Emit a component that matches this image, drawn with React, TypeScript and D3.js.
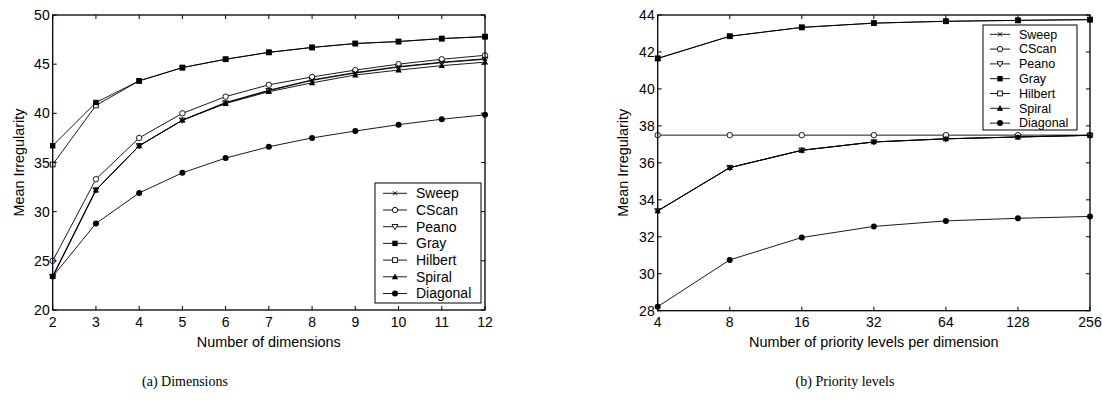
import React, { useRef, useEffect } from "react";
import * as d3 from "d3";

// series order as in the legend
const seriesNames = ["Sweep", "CScan", "Peano", "Gray", "Hilbert", "Spiral", "Diagonal"];

// (a) Dimensions
const dims = [2, 3, 4, 5, 6, 7, 8, 9, 10, 11, 12];
const sweepA = [23.4, 32.2, 36.7, 39.3, 41.1, 42.35, 43.4, 44.15, 44.75, 45.2, 45.55];
const cscanA = [25.0, 33.3, 37.5, 40.0, 41.7, 42.9, 43.7, 44.4, 45.0, 45.5, 45.9];
const peanoA = [23.4, 32.2, 36.7, 39.3, 41.05, 42.3, 43.35, 44.1, 44.7, 45.15, 45.5];
const grayA = [36.7, 41.1, 43.3, 44.65, 45.5, 46.2, 46.7, 47.1, 47.3, 47.6, 47.8];
const hilbertA = [34.8, 40.8, 43.3, 44.65, 45.5, 46.2, 46.7, 47.1, 47.3, 47.6, 47.8];
const spiralA = [23.4, 32.2, 36.7, 39.3, 41.0, 42.2, 43.1, 43.9, 44.4, 44.85, 45.2];
const diagonalA = [23.4, 28.8, 31.9, 33.95, 35.45, 36.6, 37.5, 38.2, 38.85, 39.4, 39.85];
const yTicksA = [20, 25, 30, 35, 40, 45, 50];

// (b) Priority levels
const levels = [4, 8, 16, 32, 64, 128, 256];
const sweepB = [33.4, 35.74, 36.68, 37.13, 37.3, 37.4, 37.49];
const cscanB = [37.5, 37.5, 37.5, 37.5, 37.5, 37.5, 37.5];
const peanoB = [33.4, 35.74, 36.68, 37.13, 37.3, 37.4, 37.49];
const grayB = [41.65, 42.85, 43.33, 43.56, 43.66, 43.71, 43.75];
const hilbertB = [41.65, 42.85, 43.33, 43.56, 43.66, 43.71, 43.75];
const spiralB = [33.4, 35.74, 36.68, 37.13, 37.3, 37.4, 37.49];
const diagonalB = [28.22, 30.75, 31.96, 32.56, 32.86, 33.0, 33.1];
const yTicksB = [28, 30, 32, 34, 36, 38, 40, 42, 44];

const FONT = "'Liberation Sans', Arial, Helvetica, sans-serif";
const SERIF = "'Liberation Serif', 'Times New Roman', serif";

// draw one marker of the given series name at (x, y)
function marker(g, name, x, y) {
  const s = 2.7;
  if (name === "Sweep") {
    g.append("path")
      .attr("d", `M${x - 2},${y - 2}L${x + 2},${y + 2}M${x - 2},${y + 2}L${x + 2},${y - 2}`)
      .attr("stroke", "#000").attr("stroke-width", 1);
  } else if (name === "CScan") {
    g.append("circle").attr("cx", x).attr("cy", y).attr("r", s)
      .attr("fill", "#fff").attr("stroke", "#000").attr("stroke-width", 0.9);
  } else if (name === "Peano") {
    g.append("path")
      .attr("d", `M${x - 3},${y - 2.2}L${x + 3},${y - 2.2}L${x},${y + 3}Z`)
      .attr("fill", "#fff").attr("stroke", "#000").attr("stroke-width", 0.9);
  } else if (name === "Gray") {
    g.append("rect").attr("x", x - 2.7).attr("y", y - 2.7).attr("width", 5.4).attr("height", 5.4)
      .attr("fill", "#000");
  } else if (name === "Hilbert") {
    g.append("rect").attr("x", x - 2.4).attr("y", y - 2.4).attr("width", 4.8).attr("height", 4.8)
      .attr("fill", "#fff").attr("stroke", "#000").attr("stroke-width", 0.9);
  } else if (name === "Spiral") {
    g.append("path")
      .attr("d", `M${x - 3.2},${y + 2.4}L${x + 3.2},${y + 2.4}L${x},${y - 3.2}Z`)
      .attr("fill", "#000");
  } else {
    g.append("circle").attr("cx", x).attr("cy", y).attr("r", s + 0.3).attr("fill", "#000");
  }
}

// the filled ones end up on top, like in the original plot
const drawOrder = ["Hilbert", "Peano", "CScan", "Sweep", "Spiral", "Gray", "Diagonal"];

function drawPanel(svg, opt) {
  const { x, y, xTicks, yTicks, series, xLabel, yLabelX, legend } = opt;
  const g = svg.append("g");
  const [x0, x1] = x.range();
  const [y0, y1] = y.range();

  const line = d3.line()
    .x((d, i) => x(opt.xs[i]))
    .y((d) => y(d));
  drawOrder.forEach((name) => {
    const values = series[name];
    g.append("path").attr("d", line(values)).attr("fill", "none")
      .attr("stroke", "#000").attr("stroke-width", 0.9);
    values.forEach((v, i) => marker(g, name, x(opt.xs[i]), y(v)));
  });

  // frame
  g.append("rect").attr("x", x0).attr("y", y1).attr("width", x1 - x0).attr("height", y0 - y1)
    .attr("fill", "none").attr("stroke", "#000").attr("stroke-width", 1.3);

  const tl = 4;
  xTicks.forEach((t) => {
    const px = x(t);
    g.append("line").attr("x1", px).attr("x2", px).attr("y1", y0).attr("y2", y0 - tl).attr("stroke", "#000");
    g.append("line").attr("x1", px).attr("x2", px).attr("y1", y1).attr("y2", y1 + tl).attr("stroke", "#000");
    g.append("text").attr("x", px).attr("y", y0 + 16.5).attr("text-anchor", "middle")
      .style("font-family", FONT).style("font-size", "14px").text(t);
  });
  yTicks.forEach((t) => {
    const py = y(t);
    g.append("line").attr("x1", x0).attr("x2", x0 + tl).attr("y1", py).attr("y2", py).attr("stroke", "#000");
    g.append("line").attr("x1", x1).attr("x2", x1 - tl).attr("y1", py).attr("y2", py).attr("stroke", "#000");
    g.append("text").attr("x", x0 - 3).attr("y", py + 5).attr("text-anchor", "end")
      .style("font-family", FONT).style("font-size", "14px").text(t);
  });

  g.append("text").attr("x", (x0 + x1) / 2).attr("y", y0 + 36.5).attr("text-anchor", "middle")
    .style("font-family", FONT).style("font-size", "14.4px").text(xLabel);
  g.append("text")
    .attr("transform", `translate(${yLabelX},${(y0 + y1) / 2}) rotate(-90)`)
    .attr("text-anchor", "middle").attr("dy", "0.35em")
    .style("font-family", FONT).style("font-size", "14.4px").text("Mean Irregularity");

  // legend
  const lg = g.append("g");
  lg.append("rect").attr("x", legend.x).attr("y", legend.y).attr("width", legend.w).attr("height", legend.h)
    .attr("fill", "#fff").attr("stroke", "#000").attr("stroke-width", 1);
  seriesNames.forEach((name, i) => {
    const ry = legend.y + legend.first + i * legend.step;
    const lx = legend.x + legend.pad;
    lg.append("line").attr("x1", lx).attr("x2", lx + legend.len).attr("y1", ry).attr("y2", ry)
      .attr("stroke", "#000").attr("stroke-width", 0.9);
    marker(lg, name, lx + legend.len / 2, ry);
    lg.append("text").attr("x", lx + legend.len + legend.gap).attr("y", ry).attr("dy", "0.35em")
      .style("font-family", FONT).style("font-size", legend.font).text(name);
  });
}

const App = () => {
  const ref = useRef(null);

  useEffect(() => {
    const svg = d3.select(ref.current);
    svg.selectAll("*").remove();

    const xA = d3.scaleLinear().domain([2, 12]).range([52.7, 485]);
    const yA = d3.scaleLinear().domain([20, 50]).range([310, 15]);
    drawPanel(svg, {
      x: xA, y: yA, xs: dims, xTicks: dims, yTicks: yTicksA,
      series: {
        Sweep: sweepA, CScan: cscanA, Peano: peanoA, Gray: grayA,
        Hilbert: hilbertA, Spiral: spiralA, Diagonal: diagonalA,
      },
      xLabel: "Number of dimensions",
      yLabelX: 18.5,
      legend: { x: 375, y: 183, w: 106, h: 120, first: 10.3, step: 16.7, pad: 8, len: 24, gap: 9, font: "14px" },
    });

    const xB = d3.scaleLog().base(2).domain([4, 256]).range([657.7, 1090]);
    const yB = d3.scaleLinear().domain([28, 44]).range([310.7, 15]);
    drawPanel(svg, {
      x: xB, y: yB, xs: levels, xTicks: levels, yTicks: yTicksB,
      series: {
        Sweep: sweepB, CScan: cscanB, Peano: peanoB, Gray: grayB,
        Hilbert: hilbertB, Spiral: spiralB, Diagonal: diagonalB,
      },
      xLabel: "Number of priority levels per dimension",
      yLabelX: 623,
      legend: { x: 983, y: 25, w: 94, h: 105, first: 9.3, step: 14.8, pad: 7, len: 20, gap: 9, font: "12.5px" },
    });

    svg.append("text").attr("x", 185).attr("y", 386).attr("text-anchor", "middle")
      .style("font-family", SERIF).style("font-size", "14px")
      .text("(a) Dimensions");
    svg.append("text").attr("x", 845).attr("y", 386).attr("text-anchor", "middle")
      .style("font-family", SERIF).style("font-size", "14px")
      .text("(b) Priority levels");
  }, []);

  return (
    <svg ref={ref} width={1102} height={410}
      style={{ position: "absolute", left: 0, top: 0, background: "#fff" }} />
  );
};

export default App;
